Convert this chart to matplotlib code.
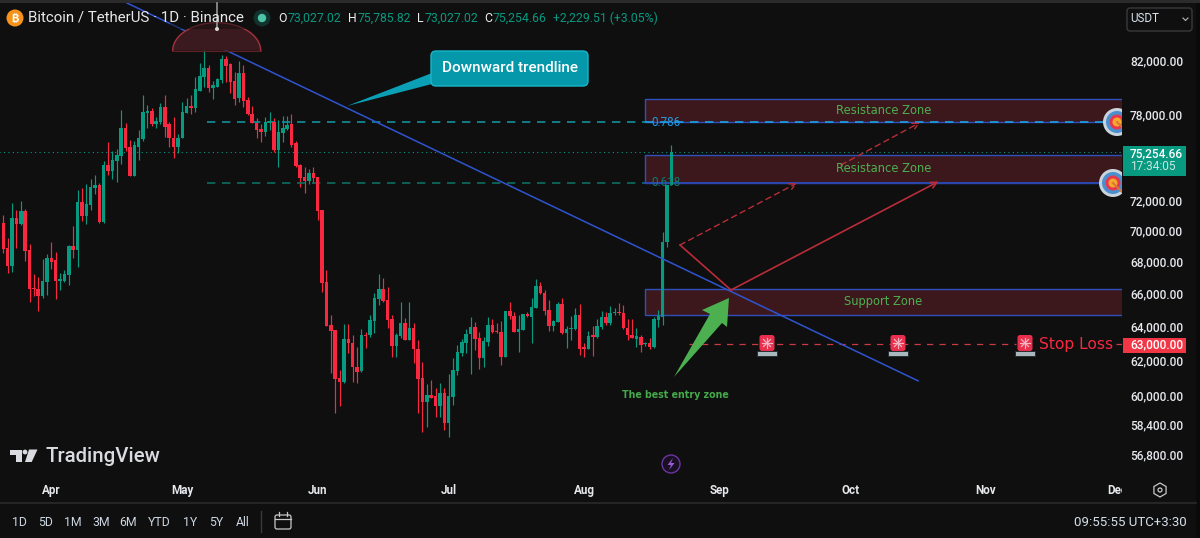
"""BTC/USDT daily candles with zones, recreated as a dark trading chart."""

import matplotlib

matplotlib.use("Agg")
import matplotlib.pyplot as plt  # noqa: E402
import numpy as np  # noqa: E402
import pandas as pd  # noqa: E402
from matplotlib.patches import Circle, FancyBboxPatch, Polygon, Rectangle  # noqa: E402
from matplotlib.transforms import Bbox  # noqa: E402

# daily OHLC, in thousands of USDT
opens = [70.48, 68.86, 67.71, 70.80, 70.41, 71.27, 68.73, 66.34, 66.28, 65.85, 66.71, 68.22, 68.09, 66.77, 66.77, 67.15,
         68.98, 68.73, 71.87, 70.93, 71.67, 72.80, 73.01, 70.54, 74.38, 73.97, 74.66, 75.01, 76.99, 75.64, 73.63, 75.64,
         76.21, 78.07, 78.22, 77.28, 77.43, 78.51, 77.28, 76.28, 75.64, 76.28, 78.07, 78.58, 78.44, 79.69, 80.73, 81.41,
         79.91, 79.98, 80.51, 82.10, 81.71, 80.43, 79.17, 81.03, 79.02, 78.00, 77.35, 76.92, 76.70, 77.35, 77.43, 75.43,
         76.63, 76.92, 77.28, 75.93, 74.38, 73.56, 73.29, 73.83, 73.56, 71.33, 66.71, 64.09, 63.80, 61.01, 60.78, 63.27,
         63.03, 61.63, 61.41, 63.50, 63.50, 64.33, 65.66, 66.28, 65.60, 64.45, 62.85, 63.44, 64.21, 63.21, 63.92, 62.68,
         61.01, 59.66, 60.05, 59.99, 59.44, 60.16, 58.51, 59.94, 61.41, 62.45, 63.03, 63.56, 63.98, 63.32, 62.16, 63.09,
         64.09, 63.74, 63.68, 62.21, 64.93, 64.63, 63.68, 63.80, 64.75, 64.57, 65.11, 66.46, 66.03, 64.99, 64.03, 64.27,
         65.36, 63.62, 63.86, 63.86, 64.69, 62.80, 62.68, 63.50, 63.38, 63.98, 64.57, 64.21, 64.81, 64.87, 64.81, 63.92,
         63.50, 63.27, 63.38, 62.97, 63.03, 62.80, 64.39, 64.57, 69.24, 73.03]
highs = [71.00, 69.50, 71.80, 71.33, 71.93, 71.40, 69.11, 67.21, 67.02, 68.15, 68.47, 69.24, 68.60, 67.27, 67.46, 69.05,
         70.28, 72.67, 72.80, 73.08, 73.42, 73.70, 73.15, 74.66, 76.00, 75.36, 75.50, 78.29, 77.35, 76.14, 76.07, 76.85,
         79.39, 78.66, 78.44, 77.78, 78.80, 79.39, 77.43, 77.78, 76.56, 78.88, 79.17, 79.39, 80.73, 81.79, 83.02, 81.64,
         80.43, 80.66, 82.40, 82.32, 81.79, 81.11, 81.94, 81.64, 79.24, 78.58, 77.71, 77.28, 77.78, 78.15, 77.71, 77.57,
         77.86, 77.86, 78.00, 76.07, 74.45, 74.24, 74.11, 74.24, 73.56, 71.33, 67.46, 64.69, 63.80, 61.46, 64.15, 64.15,
         63.50, 62.80, 63.86, 63.68, 64.69, 66.03, 67.21, 66.96, 66.40, 64.69, 63.62, 65.48, 64.51, 65.48, 64.21, 63.21,
         61.92, 60.67, 60.90, 60.44, 60.73, 60.44, 61.23, 62.16, 62.91, 63.27, 63.86, 64.57, 64.27, 63.68, 63.38, 64.57,
         64.45, 64.21, 64.33, 64.93, 65.48, 64.87, 64.69, 64.75, 64.87, 65.72, 66.90, 66.71, 66.22, 65.60, 64.39, 65.48,
         65.72, 64.03, 64.63, 65.11, 65.36, 63.03, 63.74, 64.03, 64.45, 64.93, 64.87, 65.24, 65.11, 65.42, 65.30, 64.45,
         64.45, 63.92, 63.50, 63.09, 63.32, 64.57, 64.99, 69.89, 73.03, 75.79]
lows = [68.54, 67.27, 67.33, 68.86, 70.35, 68.03, 65.48, 65.85, 64.93, 65.72, 65.91, 67.52, 65.66, 66.22, 66.71, 66.52,
        68.22, 67.65, 70.60, 70.41, 71.33, 72.40, 70.48, 70.48, 73.70, 73.42, 73.22, 74.45, 75.36, 73.63, 73.63, 74.73,
        76.07, 76.99, 77.14, 76.99, 77.28, 76.35, 75.64, 74.87, 75.22, 76.28, 78.07, 78.00, 78.15, 79.69, 79.98, 79.61,
        79.09, 79.98, 80.28, 80.36, 79.54, 78.66, 78.88, 78.51, 77.93, 77.35, 76.28, 76.00, 76.42, 76.85, 75.29, 74.24,
        76.00, 76.85, 75.64, 74.24, 72.87, 72.47, 73.08, 73.15, 70.67, 66.10, 64.03, 61.29, 59.05, 59.44, 60.72, 62.45,
        60.78, 60.72, 61.35, 62.74, 63.38, 63.62, 65.30, 65.48, 63.92, 62.21, 62.21, 63.32, 63.21, 63.21, 61.86, 59.05,
        58.02, 58.29, 59.88, 58.83, 58.83, 58.13, 57.75, 59.49, 61.18, 62.27, 62.45, 61.24, 62.62, 61.52, 61.63, 62.85,
        63.62, 63.62, 61.75, 62.21, 64.45, 63.68, 62.50, 63.80, 64.57, 63.03, 65.11, 65.97, 64.69, 63.74, 63.74, 64.27,
        63.56, 62.74, 63.21, 63.80, 62.33, 62.21, 62.68, 62.27, 63.32, 63.86, 64.09, 64.09, 64.69, 64.69, 63.86, 63.21,
        63.32, 62.80, 62.50, 62.85, 62.68, 62.74, 63.98, 64.09, 68.92, 73.03]
closes = [68.79, 67.71, 70.80, 70.41, 71.27, 68.67, 66.28, 66.28, 65.85, 66.77, 68.22, 67.96, 66.77, 66.90, 67.21, 68.98,
          68.73, 71.87, 70.93, 71.73, 72.87, 73.01, 70.54, 74.38, 73.97, 74.73, 75.08, 76.99, 75.57, 73.63, 75.78, 76.28,
          78.15, 78.22, 77.28, 77.50, 78.51, 77.07, 76.28, 75.64, 76.28, 78.15, 78.58, 78.44, 79.83, 80.80, 81.41, 79.91,
          80.13, 80.58, 82.10, 81.56, 80.36, 79.09, 81.03, 78.95, 78.00, 77.35, 76.85, 76.70, 77.43, 77.50, 75.43, 76.70,
          76.99, 77.21, 75.78, 74.31, 73.49, 73.29, 73.83, 73.49, 71.27, 66.65, 64.03, 63.74, 60.95, 60.78, 63.27, 63.03,
          61.63, 61.35, 63.50, 63.44, 64.39, 65.72, 66.28, 65.54, 64.39, 62.85, 63.50, 64.21, 63.21, 63.92, 62.68, 60.95,
          59.66, 60.05, 59.88, 59.44, 60.16, 58.51, 59.99, 61.46, 62.50, 63.09, 63.56, 63.98, 63.27, 62.16, 63.15, 64.09,
          63.68, 63.68, 62.21, 64.93, 64.63, 63.68, 63.86, 64.75, 64.63, 65.17, 66.46, 66.03, 64.93, 64.03, 64.33, 65.36,
          63.62, 63.86, 63.92, 64.69, 62.68, 62.68, 63.44, 63.38, 64.03, 64.57, 64.21, 64.81, 64.87, 64.81, 63.92, 63.50,
          63.32, 63.44, 62.91, 63.03, 62.80, 64.45, 64.63, 69.24, 73.03, 75.25]

first_day = "2025-03-21"
month_starts = ["2025-04-01", "2025-05-01", "2025-06-01", "2025-07-01", "2025-08-01",
                "2025-09-01", "2025-10-01", "2025-11-01", "2025-12-01"]
month_labels = ["Apr", "May", "Jun", "Jul", "Aug", "Sep", "Oct", "Nov", "Dec"]

price_ticks = [82000, 78000, 72000, 70000, 68000, 66000, 64000, 62000, 60000, 58400, 56800]

last_price = 75254.66
stop_price = 62950
fib_786 = 77420
fib_618 = 73170
zones = [("Resistance Zone", 77420, 79070), ("Resistance Zone", 73170, 75060), ("Support Zone", 64670, 66260)]
trend_days = [28.3, 209.5]
trend_prices = [86490, 60840]

range_buttons = ["1D", "5D", "1M", "3M", "6M", "YTD", "1Y", "5Y", "All"]
button_x = [19, 46, 73, 101, 128, 159, 190, 216, 243]

BG = "#0f0f0f"
UP = "#089981"
DOWN = "#f7283f"
TEXT = "#d6d9df"
ZONE_FILL = "#3c181d"
ZONE_EDGE = "#2f50b8"
UI_FONT = "Roboto"

plt.rcParams["font.family"] = [UI_FONT, "DejaVu Sans"]

fig = plt.figure(figsize=(12, 5.38), dpi=100, facecolor="#0a0a0a")
W, H = 1200, 538

# window body behind both axes
fig.add_artist(Rectangle((0, 0), 1196 / W, 1, transform=fig.transFigure, facecolor=BG, edgecolor="none", zorder=0))

# chart panel: pixel rows 3 to 476, columns 0 to 1122
ax = fig.add_axes([0, (H - 476) / H, 1122 / W, (476 - 3) / H], facecolor=BG, zorder=1)
for side in ax.spines.values():
    side.set_visible(False)
ax.set_yscale("log")
ax.set_ylim(55683, 86486)
ax.set_xlim(-0.756, 256.2)

start = pd.Timestamp(first_day)
days = np.arange(len(opens))
o, h, l, c = (np.array(a) * 1000 for a in (opens, highs, lows, closes))
colors = np.where(c >= o, UP, DOWN)

ax.vlines(days, l, h, colors=colors, linewidth=0.85, zorder=3)
ax.bar(days, np.maximum(np.abs(c - o), 40), bottom=np.minimum(o, c), width=0.8, color=colors, linewidth=0, zorder=4)

for name, low, high in zones:
    ax.add_patch(Rectangle((146.9, low), 200, high - low, facecolor=ZONE_FILL, edgecolor=ZONE_EDGE, linewidth=1.0, zorder=2))

ax.hlines(last_price, -1, 300, colors=UP, linestyles=(0, (1, 3)), linewidth=0.8, zorder=3)
ax.plot([46.7, 146.9], [fib_786, fib_786], color="#14909c", linewidth=1.2, linestyle=(0, (5, 4)), zorder=3)
ax.plot([146.9, 300], [fib_786, fib_786], color="#1d9fe6", linewidth=1.2, linestyle=(0, (5, 4)), zorder=5)
ax.plot([46.7, 146.9], [fib_618, fib_618], color="#0c6e60", linewidth=1.2, linestyle=(0, (5, 4)), zorder=3)
ax.plot([146.9, 300], [fib_618, fib_618], color="#2a47b0", linewidth=1.4, zorder=3)
ax.plot(trend_days, trend_prices, color="#2f54d0", linewidth=1.1, zorder=5)
for first, last in [(157, 232), (254.9, 300)]:
    ax.plot([first, last], [stop_price, stop_price], color="#c93a46", linewidth=0.9, linestyle=(0, (5, 5)), zorder=3)

ax.yaxis.tick_right()
ax.minorticks_off()
ax.set_yticks(price_ticks)
ax.set_yticklabels([f"{p:,.2f}" for p in price_ticks], fontsize=8.6, color="#e6e8ec", fontweight="medium")
ax.set_xticks([(pd.Timestamp(m) - start).days for m in month_starts])
ax.set_xticklabels(month_labels, fontsize=8.4, color="#e6e8ec", fontweight="bold")
ax.tick_params(axis="y", which="both", length=0, pad=5.8)
ax.tick_params(axis="x", which="both", length=0, pad=5.8)
for lab in ax.get_xticklabels():
    lab.set_clip_on(True)
    lab.set_clip_box(Bbox([[0, 0], [1122, H]]))

# everything drawn on top of the chart is laid out in pixels
over = fig.add_axes([0, 0, 1, 1], facecolor="none", zorder=2)
over.set_xlim(0, W)
over.set_ylim(H, 0)
over.axis("off")
chart_clip = Rectangle((0, 0), 1122, H, transform=over.transData)


def label(x, y, text, color=TEXT, size=8.6, ha="left", weight="normal", family=None, zorder=8):
    return over.text(x, y, text, color=color, fontsize=size, ha=ha, va="center", fontweight=weight,
                     family=family or [UI_FONT, "DejaVu Sans"], zorder=zorder)


def siren(cx, cy):
    over.add_patch(FancyBboxPatch((cx - 7.5, cy - 10), 15, 16, boxstyle="round,pad=0,rounding_size=2.5",
                                  facecolor="#e92f4d", edgecolor="none", zorder=7))
    over.add_patch(Rectangle((cx - 10, cy + 6), 20, 5, facecolor="#a9b8bf", edgecolor="#20272b", linewidth=0.6, zorder=7))
    for angle in np.arange(0, np.pi, np.pi / 4):
        dx, dy = 5 * np.cos(angle), 5 * np.sin(angle)
        over.plot([cx - dx, cx + dx], [cy - 2 - dy, cy - 2 + dy], color="#f3b5c2", linewidth=0.9, zorder=8)


def target(cx, cy):
    for radius, color in [(14, "#c9d3dc"), (11, "#4a90cf"), (7.5, "#e8384f"), (4.5, "#f6a928")]:
        disc = Circle((cx, cy), radius, facecolor=color, edgecolor="none", zorder=7)
        over.add_patch(disc)
        disc.set_clip_path(chart_clip)
    dart, = over.plot([cx, cx + 9], [cy, cy + 9], color="#d9733c", linewidth=1.4, zorder=8)
    dart.set_clip_path(chart_clip)


# top edge of the window
over.add_patch(Rectangle((0, 0), W, 3, facecolor="#2b2b2b", edgecolor="none", zorder=1))
over.plot([0, 1196], [503, 503], color="#2a2a2a", linewidth=1.2, zorder=1)

# header line
over.add_patch(Circle((15, 18), 8.5, facecolor="#f7931a", edgecolor="none", zorder=8))
label(15, 18, "₿", color="white", size=8, ha="center", weight="bold", family=["Inter", "Noto Sans", "DejaVu Sans"], zorder=9)
label(28, 18, "Bitcoin / TetherUS · 1D · Binance", color="#e8e8ea", size=10.85)
over.add_patch(Circle((262, 18), 8.5, facecolor="#12322d", edgecolor="none", zorder=8))
over.add_patch(Circle((262, 18), 4.2, facecolor="#4dc4a8", edgecolor="none", zorder=9))
for x, letter, vx, value in [(278, "O", 288, "73,027.02"), (348, "H", 358, "75,785.82"),
                             (417, "L", 425, "73,027.02"), (484, "C", 493, "75,254.66")]:
    label(x, 18, letter, color="#eeeeee", size=8.8)
    label(vx, 18, value, color=UP, size=8.8)
label(553, 18, "+2,229.51 (+3.05%)", color=UP, size=8.8)

# currency selector
over.add_patch(FancyBboxPatch((1127, 8), 65, 23, boxstyle="round,pad=0,rounding_size=3", facecolor=BG,
                              edgecolor="#3a3a3a", linewidth=1.0, zorder=8))
label(1130, 19, "USDT", color="#d9e3ee", size=8.4)
over.plot([1183, 1185.5, 1188], [18, 20.5, 18], color="#b8b8b8", linewidth=0.8, zorder=9)

# marker above the swing high, fading out under the header
arc_t = np.linspace(0, np.pi, 60)
arc_x = 216.7 + 44 * np.cos(arc_t)
arc_y = 50.7 - 28 * np.sin(arc_t)
over.add_patch(Polygon(np.column_stack([arc_x, arc_y]), closed=True, facecolor="#3a1a1e", edgecolor="none", zorder=1))
over.plot(arc_x, arc_y, color="#a5323e", linewidth=1.0, zorder=2)
over.plot([172.7, 260.7], [50.7, 50.7], color="#5c2026", linewidth=0.8, zorder=2)
over.add_patch(Rectangle((170, 20), 95, 9, facecolor=BG, edgecolor="none", alpha=0.5, zorder=3))
over.plot([217, 217], [3, 29], color="#8a8a8a", linewidth=1.3, zorder=6)
over.add_patch(Circle((217, 29), 2, facecolor="#d8d8d8", edgecolor="none", zorder=6))

# trendline callout
over.add_patch(Polygon([(347, 106), (432, 73), (432, 84)], closed=True, facecolor="#0ba0b6", edgecolor="none", zorder=6))
over.add_patch(FancyBboxPatch((431, 51), 157, 35, boxstyle="round,pad=0,rounding_size=5", facecolor="#0597aa",
                              edgecolor="#19b6c9", linewidth=1.0, zorder=7))
label(509.5, 68, "Downward trendline", color="white", size=11, ha="center", weight="medium")

# zone captions and fib levels
for (name, low, high), y in zip(zones, [110, 169, 302]):
    label(883.5, y, name, color="#4caf50", size=8.3, ha="center", family=["DejaVu Sans"])
label(651, 122, "0.786", color="#1d9fe6", size=8.4)
label(651, 182.5, "0.618", color="#0f7c6c", size=8.4)

# planned path arrows
path_red = "#b92c38"
over.plot([680, 731], [245, 290], color=path_red, linewidth=1.2, zorder=6)
over.annotate("", xy=(938.5, 181.5), xytext=(731, 290),
              arrowprops=dict(arrowstyle="->", color=path_red, linewidth=1.2, mutation_scale=11, shrinkA=0, shrinkB=0), zorder=6)
for start_xy, end_xy in [((680, 245), (797, 183)), ((841, 165), (920, 122.5))]:
    over.annotate("", xy=end_xy, xytext=start_xy,
                  arrowprops=dict(arrowstyle="->", color=path_red, linewidth=1.0, linestyle=(0, (4, 3)),
                                  mutation_scale=11, shrinkA=0, shrinkB=0), zorder=6)

# entry arrow
over.add_patch(Polygon([(729, 298), (702, 310), (710, 314), (674, 377), (722, 323), (727, 327)], closed=True,
                       facecolor="#4caf50", edgecolor="none", zorder=7))
label(675.5, 395.5, "The best entry zone", color="#45a84a", size=6.85, ha="center", weight="bold", family=["DejaVu Sans"])

# stop loss
for cx in (767, 898, 1025):
    siren(cx, 345)
label(1039, 345, "Stop Loss", color="#f7283f", size=11.2, family=["DejaVu Sans"])
target(1117, 122)
target(1113, 183)

# price labels on the axis
over.add_patch(Rectangle((1123, 146), 63, 30, facecolor=UP, edgecolor="none", zorder=8))
label(1130, 153.5, f"{last_price:,.2f}", color="white", size=8.6, weight="medium", zorder=9)
label(1130, 167, "17:34:05", color="#c8e6df", size=8.6, zorder=9)
over.add_patch(Rectangle((1123, 338), 63, 15, facecolor="#f23645", edgecolor="none", zorder=8))
label(1130, 345, "63,000.00", color="white", size=8.6, weight="medium", zorder=9)

# watermark
over.add_patch(Polygon([(10, 450), (22, 450), (22, 462), (16, 462), (16, 455), (10, 455)], closed=True,
                       facecolor="#d9dbe0", edgecolor="none", zorder=8))
over.add_patch(Circle((25, 452), 2.4, facecolor="#d9dbe0", edgecolor="none", zorder=8))
over.add_patch(Polygon([(29, 449.5), (37.5, 449.5), (31.7, 462), (25, 462)], closed=True,
                       facecolor="#d9dbe0", edgecolor="none", zorder=8))
label(45, 456, "TradingView", color="#d9dbe0", size=14.7, weight="medium")

# lightning badge
over.add_patch(Circle((671, 464), 9, facecolor="#1a1024", edgecolor="#6a35a0", linewidth=1.0, zorder=8))
over.add_patch(Polygon([(673, 458), (667.5, 465), (671, 465), (669, 470), (674.5, 463), (671, 463)], closed=True,
                       facecolor="#9c5bd6", edgecolor="none", zorder=9))

# gear
hex_t = np.pi / 6 + np.arange(6) * np.pi / 3
over.add_patch(Polygon(np.column_stack([1160 + 7 * np.cos(hex_t), 490 + 7 * np.sin(hex_t)]), closed=True,
                       facecolor="none", edgecolor="#c8c8c8", linewidth=0.9, zorder=8))
over.add_patch(Circle((1160, 490), 2, facecolor="none", edgecolor="#c8c8c8", linewidth=0.9, zorder=8))

# bottom toolbar
for x, text in zip(button_x, range_buttons):
    label(x, 522, text, color="#cdd6e2", size=8.8, ha="center")
over.plot([261, 261], [511, 532], color="#3a3a3a", linewidth=1.0, zorder=8)
over.add_patch(FancyBboxPatch((275, 515), 16, 14, boxstyle="round,pad=0,rounding_size=2", facecolor="none",
                              edgecolor="#c8c8c8", linewidth=0.9, zorder=8))
over.plot([275, 291], [519, 519], color="#c8c8c8", linewidth=0.9, zorder=8)
over.plot([279, 279], [512, 516], color="#c8c8c8", linewidth=0.9, zorder=8)
over.plot([287, 287], [512, 516], color="#c8c8c8", linewidth=0.9, zorder=8)
label(1187, 522, "09:55:55 UTC+3:30", color="#d6e0ea", size=9.5, ha="right")

fig.savefig("out.png", dpi=100, facecolor=fig.get_facecolor())
plt.close(fig)
